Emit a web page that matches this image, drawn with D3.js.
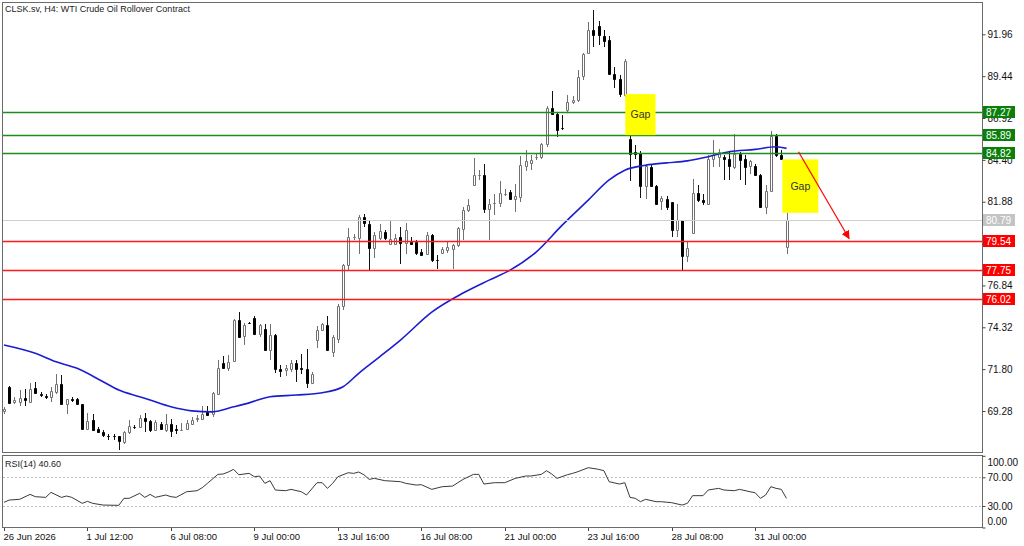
<!DOCTYPE html>
<html>
<head>
<meta charset="utf-8">
<script src="https://cdn.jsdelivr.net/npm/d3@7"></script>
<style>
  html, body { margin: 0; padding: 0; background: #fff; }
  svg text { font-family: "Liberation Sans", Arial, sans-serif; }
</style>
</head>
<body>
<div id="chart"></div>
<script>
// H4 bars, index 0 = 26 Jun 2026 00:00
const opens = [
  69.28, 70.73, 69.81, 69.85, 70.05, 69.83, 70.69, 70.33, 70.21, 70.13,
  70.43, 70.89, 69.68, 69.99, 70.03, 69.68, 68.20, 68.72, 68.20, 68.02,
  67.78, 67.80, 67.76, 67.40, 68.04, 68.34, 68.32, 68.88, 68.68, 68.12,
  68.52, 68.12, 68.48, 68.18, 68.14, 68.22, 68.52, 68.82, 68.82, 69.22,
  69.08, 70.33, 72.17, 71.89, 72.29, 74.78, 73.78, 74.58, 74.90, 73.90,
  74.24, 72.93, 73.84, 71.83, 71.73, 71.83, 72.17, 71.85, 71.83, 70.97,
  73.54, 74.18, 74.44, 72.83, 73.64, 75.58, 78.05, 79.74, 79.72, 80.96,
  80.56, 79.12, 79.72, 80.06, 79.36, 79.36, 79.76, 79.40, 79.46, 79.48,
  78.85, 78.71, 79.86, 78.40, 78.79, 78.96, 79.06, 79.26, 80.26, 81.40,
  82.87, 83.47, 83.47, 81.46, 81.80, 81.80, 82.37, 82.47, 82.07, 82.17,
  84.01, 84.20, 84.57, 84.57, 85.34, 87.54, 87.18, 86.32, 87.38, 87.89,
  88.03, 89.43, 90.84, 92.24, 92.44, 91.84, 91.60, 89.55, 89.29, 88.29,
  85.68, 84.88, 84.82, 82.81, 83.97, 82.81, 81.93, 82.07, 81.86, 80.16,
  80.76, 78.60, 80.00, 82.41, 82.01, 81.77, 84.47, 84.57, 84.57, 84.47,
  83.97, 84.78, 84.47, 84.01, 84.01, 83.47, 81.56, 82.53, 85.82, 84.68,
  79.16
];
const highs = [
  69.52, 70.77, 70.13, 70.57, 70.63, 70.97, 71.01, 70.43, 70.29, 70.73,
  71.49, 71.43, 70.03, 70.13, 70.07, 69.70, 69.16, 69.12, 68.32, 68.16,
  67.92, 67.88, 67.80, 68.08, 68.76, 68.42, 69.02, 69.16, 68.76, 68.72,
  68.62, 69.08, 68.82, 68.42, 68.56, 68.72, 68.92, 69.02, 69.56, 69.56,
  70.43, 72.37, 72.57, 72.63, 74.84, 75.24, 74.58, 74.64, 74.98, 74.54,
  74.50, 74.50, 73.94, 72.03, 72.03, 72.33, 72.33, 72.69, 73.03, 71.63,
  74.38, 74.58, 74.98, 73.84, 75.74, 78.15, 80.32, 79.96, 81.06, 81.16,
  80.72, 80.06, 80.56, 80.20, 80.72, 79.96, 80.36, 80.60, 79.76, 79.56,
  79.06, 80.06, 79.92, 78.65, 79.16, 79.46, 79.36, 80.36, 81.56, 82.07,
  84.53, 83.81, 84.13, 82.07, 82.33, 83.13, 82.67, 82.57, 82.97, 84.61,
  84.97, 84.67, 84.73, 85.42, 87.62, 88.55, 87.28, 87.08, 88.29, 88.23,
  89.79, 90.84, 92.70, 93.44, 92.76, 92.24, 91.84, 89.99, 89.49, 90.49,
  85.89, 85.28, 84.94, 84.13, 84.07, 82.87, 82.21, 82.21, 81.86, 81.76,
  80.76, 79.46, 83.27, 82.87, 82.37, 84.68, 85.58, 85.08, 84.68, 84.88,
  85.98, 84.88, 84.68, 84.41, 84.17, 83.57, 82.87, 86.14, 85.98, 85.02,
  81.20
];
const lows = [
  69.12, 69.68, 69.68, 69.56, 69.56, 69.76, 70.29, 70.13, 70.01, 69.83,
  70.33, 69.62, 69.12, 69.81, 69.62, 68.16, 68.12, 68.12, 68.00, 67.72,
  67.52, 67.56, 66.96, 67.32, 67.92, 68.22, 68.28, 68.02, 68.02, 68.08,
  68.12, 68.02, 67.72, 67.92, 68.08, 68.12, 68.42, 68.62, 68.76, 68.96,
  68.92, 70.23, 71.83, 71.69, 72.23, 73.70, 73.24, 74.50, 73.84, 73.74,
  72.90, 72.33, 71.57, 71.33, 71.37, 71.63, 71.03, 71.53, 70.69, 70.89,
  73.10, 74.10, 72.93, 72.53, 73.38, 75.34, 77.75, 79.56, 78.75, 80.36,
  77.79, 78.51, 79.60, 79.60, 79.26, 79.26, 78.11, 78.75, 79.26, 78.65,
  78.59, 78.65, 78.25, 77.85, 78.71, 78.79, 77.85, 79.16, 79.60, 81.26,
  82.87, 83.17, 81.20, 79.56, 81.06, 81.56, 82.21, 81.97, 81.26, 81.87,
  83.73, 83.77, 84.41, 84.47, 85.18, 87.08, 85.78, 86.18, 87.28, 87.79,
  87.89, 89.19, 90.76, 91.20, 91.30, 91.20, 89.49, 88.75, 88.19, 88.19,
  83.10, 84.48, 82.13, 82.07, 82.77, 81.67, 81.36, 81.36, 79.76, 79.76,
  77.75, 78.25, 79.96, 81.87, 81.67, 81.67, 83.97, 83.97, 83.21, 83.17,
  83.87, 83.21, 82.87, 83.57, 83.41, 81.50, 81.16, 82.47, 84.57, 84.37,
  78.76
];
const closes = [
  69.42, 69.76, 69.93, 70.05, 69.93, 70.63, 70.37, 70.25, 70.13, 70.47,
  70.93, 69.68, 69.99, 69.93, 69.68, 68.20, 68.68, 68.16, 68.04, 67.84,
  67.76, 67.79, 67.48, 68.04, 68.38, 68.32, 68.86, 68.68, 68.16, 68.62,
  68.22, 68.52, 68.08, 68.16, 68.16, 68.58, 68.76, 68.84, 69.08, 69.02,
  70.37, 71.89, 71.89, 72.25, 74.78, 73.74, 74.46, 74.56, 73.90, 74.44,
  72.98, 73.84, 71.83, 71.69, 71.89, 72.17, 71.83, 71.83, 70.97, 71.49,
  74.18, 74.50, 72.97, 73.74, 75.58, 78.05, 79.76, 79.76, 80.96, 80.60,
  79.12, 79.86, 80.12, 79.72, 79.66, 79.72, 79.40, 80.20, 79.32, 78.79,
  78.65, 79.86, 78.35, 78.39, 79.06, 79.16, 79.26, 80.30, 81.40, 81.66,
  83.47, 83.49, 81.46, 81.76, 81.80, 82.41, 82.37, 82.07, 82.21, 84.07,
  84.33, 84.40, 84.59, 85.34, 87.54, 87.14, 86.22, 86.31, 87.89, 88.03,
  89.39, 90.76, 92.24, 91.90, 91.90, 91.56, 89.55, 89.29, 88.35, 90.35,
  84.74, 84.78, 82.81, 84.01, 82.81, 81.77, 82.13, 81.56, 80.16, 80.76,
  78.60, 79.12, 82.41, 81.97, 81.87, 84.48, 84.68, 84.88, 84.47, 84.01,
  84.78, 84.37, 83.97, 84.33, 83.47, 81.56, 82.53, 85.82, 84.68, 84.47,
  80.79
];

// moving average at a few bars
const maBar = [0, 6, 10, 14, 19, 22, 26, 28, 32, 36, 40, 44, 47, 51, 56, 61, 65, 68, 72,
  76, 82, 88, 93, 97, 102, 107, 112, 116, 119, 123, 127, 131, 135, 139, 144, 148, 150];
const maVal = [73.25, 72.75, 72.24, 71.85, 71.04, 70.54, 70.14, 69.94, 69.53, 69.29, 69.23,
  69.53, 69.77, 70.14, 70.24, 70.38, 70.74, 71.55, 72.54, 73.55, 75.23, 76.38, 77.16, 77.76,
  78.85, 80.47, 81.98, 83.19, 83.78, 84.08, 84.22, 84.34, 84.59, 84.89, 85.03, 85.19, 85.09];

// RSI(14)
const rsiBar = [0, 1, 3, 5, 6, 8, 9, 11, 12, 13, 15, 16, 17, 19, 22, 23, 24, 26, 27, 28, 29,
  31, 32, 33, 35, 37, 38, 39, 41, 42, 43, 44, 45, 47, 48, 49, 50, 51, 52, 54, 55, 57, 58,
  60, 61, 62, 63, 64, 66, 67, 68, 69, 70, 71, 73, 76, 77, 79, 80, 82, 84, 86, 87, 88, 90,
  91, 92, 94, 96, 98, 100, 101, 103, 104, 105, 106, 108, 109, 110, 112, 114, 115, 116, 118,
  119, 120, 121, 122, 123, 125, 126, 128, 130, 131, 132, 134, 135, 137, 138, 140, 141, 143,
  144, 145, 146, 147, 148, 149, 150];
const rsiVal = [35.1, 38.3, 39.3, 46.2, 43.0, 42.0, 49.0, 42.0, 43.9, 42.0, 33.7, 36.5, 33.7,
  31.3, 30.9, 40.7, 40.7, 47.6, 42.0, 46.2, 42.0, 45.3, 43.0, 42.0, 49.9, 51.3, 55.5, 61.6,
  74.1, 74.6, 77.4, 81.1, 73.6, 75.5, 70.8, 71.8, 61.6, 65.3, 52.3, 51.3, 53.2, 49.9, 45.3,
  62.5, 62.5, 54.6, 61.6, 70.8, 76.4, 75.5, 77.4, 73.6, 67.1, 68.5, 65.3, 63.9, 61.6, 59.2,
  59.7, 53.2, 56.9, 57.8, 62.5, 67.1, 74.1, 74.1, 60.6, 62.5, 62.5, 68.5, 71.8, 71.8, 74.1,
  79.2, 74.6, 68.5, 73.6, 75.5, 77.8, 83.4, 81.1, 79.2, 63.9, 60.6, 62.5, 42.0, 40.7, 36.0,
  39.3, 36.0, 36.0, 34.6, 31.3, 33.7, 44.4, 44.4, 52.3, 54.6, 52.3, 51.3, 53.2, 49.9, 48.5,
  40.7, 45.3, 56.9, 54.6, 53.2, 40.6];

const priceTicks = [69.28, 71.80, 74.32, 76.84, 79.36, 81.88, 84.40, 86.92, 89.44, 91.96];
const rsiTicks = [0, 30, 70, 100];
const dateBars = [0, 16, 32, 48, 64, 80, 96, 112, 128, 144];
const dateLabels = ["26 Jun 2026", "1 Jul 12:00", "6 Jul 08:00", "9 Jul 00:00", "13 Jul 16:00",
  "16 Jul 08:00", "21 Jul 00:00", "23 Jul 16:00", "28 Jul 08:00", "31 Jul 00:00"];

const levelPrices = [87.27, 85.89, 84.82, 80.79, 79.54, 77.75, 76.02];
const levelKinds = ["res", "res", "res", "bid", "sup", "sup", "sup"];

// gap boxes (bar index span, price span) and the projection arrow
const gapFrom = [119.1, 149.2];
const gapTo = [124.9, 156.1];
const gapHigh = [88.36, 84.43];
const gapLow = [85.89, 81.21];
const arrowBars = [152.3, 162.0];
const arrowPrices = [84.89, 79.67];

const W = 1024, H = 546;
const L = 3, R = 983, T = 3, mainB = 453, rsiT = 456, rsiB = 528;

const svg = d3.select("#chart").append("svg")
  .attr("width", W).attr("height", H)
  .style("display", "block");
svg.append("rect").attr("width", W).attr("height", H).attr("fill", "#fff");

const x = d3.scaleLinear().domain([0, 150]).range([4, 786.5]);
const y = d3.scaleLinear().domain([69.28, 91.96]).range([411.0, 34.3]);
const yR = d3.scaleLinear().domain([0, 100]).range([527.5, 455.8]);
const px = i => Math.round(x(i)) + 0.5;

svg.append("clipPath").attr("id", "mainClip")
  .append("rect").attr("x", L).attr("y", T).attr("width", R - L).attr("height", mainB - T);
svg.append("clipPath").attr("id", "rsiClip")
  .append("rect").attr("x", L).attr("y", rsiT).attr("width", R - L).attr("height", rsiB - rsiT);

const main = svg.append("g").attr("clip-path", "url(#mainClip)");

// candles
const candles = d3.range(opens.length).map(i => ({ i, o: opens[i], h: highs[i], l: lows[i], c: closes[i] }));
const bull = d => d.c >= d.o;

main.selectAll("line.wick").data(candles).join("line")
  .attr("class", "wick")
  .attr("x1", d => px(d.i)).attr("x2", d => px(d.i))
  .attr("y1", d => Math.round(y(d.h))).attr("y2", d => Math.round(y(d.l)))
  .attr("stroke", d => bull(d) ? "#707070" : "#111")
  .attr("stroke-width", 1);

main.selectAll("path.body").data(candles).join("path")
  .attr("class", "body")
  .attr("d", d => {
    const t = Math.round(y(Math.max(d.o, d.c))) + 0.5;
    const b = Math.round(y(Math.min(d.o, d.c))) + 0.5;
    const x0 = px(d.i) - 1;
    return `M${x0},${t}h2V${b}h-2Z`;
  })
  .attr("fill", d => bull(d) ? "#fff" : "#000")
  .attr("stroke", d => bull(d) ? "#707070" : "#000")
  .attr("stroke-width", 1);

// moving average
const maPts = maBar.map((b, k) => [b, maVal[k]]);
main.append("path")
  .attr("d", d3.line().x(d => x(d[0])).y(d => y(d[1])).curve(d3.curveMonotoneX)(maPts))
  .attr("fill", "none").attr("stroke", "#1c1cd0").attr("stroke-width", 1.6);

// horizontal levels
const lineColor = { res: "#1e8c1e", bid: "#cfcfcf", sup: "#ff1a1a" };
const boxColor = { res: "#0a800a", bid: "#c4c4c4", sup: "#ff0000" };
const levels = levelPrices.map((p, k) => ({ p, kind: levelKinds[k] }));
main.selectAll("line.level").data(levels).join("line")
  .attr("class", "level")
  .attr("x1", L).attr("x2", R)
  .attr("y1", d => Math.round(y(d.p)) + 0.5).attr("y2", d => Math.round(y(d.p)) + 0.5)
  .attr("stroke", d => lineColor[d.kind])
  .attr("stroke-width", d => d.kind === "bid" ? 1 : 1.3);

// gap boxes
const gaps = gapFrom.map((f, k) => ({ f, t: gapTo[k], hi: gapHigh[k], lo: gapLow[k] }));
const gapG = main.selectAll("g.gap").data(gaps).join("g").attr("class", "gap");
gapG.append("rect")
  .attr("x", d => x(d.f)).attr("width", d => x(d.t) - x(d.f))
  .attr("y", d => y(d.hi)).attr("height", d => y(d.lo) - y(d.hi))
  .attr("fill", "#ffff00");
gapG.append("text")
  .attr("x", d => (x(d.f) + x(d.t)) / 2)
  .attr("y", d => (y(d.hi) + y(d.lo)) / 2 + 3.5)
  .attr("text-anchor", "middle")
  .attr("font-size", 10.5).attr("fill", "#333")
  .text("Gap");

// arrow
svg.append("defs").append("marker")
  .attr("id", "arrowHead").attr("viewBox", "0 0 10 10")
  .attr("refX", 9).attr("refY", 5)
  .attr("markerWidth", 7).attr("markerHeight", 7)
  .attr("orient", "auto")
  .append("path").attr("d", "M0,0L10,5L0,10Z").attr("fill", "#ff0000");
main.append("line")
  .attr("x1", x(arrowBars[0])).attr("y1", y(arrowPrices[0]))
  .attr("x2", x(arrowBars[1])).attr("y2", y(arrowPrices[1]))
  .attr("stroke", "#ff0000").attr("stroke-width", 1.2)
  .attr("marker-end", "url(#arrowHead)");

// RSI panel
const rsiG = svg.append("g").attr("clip-path", "url(#rsiClip)");
rsiG.selectAll("line.lvl").data([70, 30]).join("line")
  .attr("class", "lvl")
  .attr("x1", L).attr("x2", R)
  .attr("y1", d => Math.round(yR(d)) + 0.5).attr("y2", d => Math.round(yR(d)) + 0.5)
  .attr("stroke", "#bdbdbd").attr("stroke-dasharray", "2,2");
const rsiPts = rsiBar.map((b, k) => [b, rsiVal[k]]);
rsiG.append("path")
  .attr("d", d3.line().x(d => x(d[0])).y(d => yR(d[1]))(rsiPts))
  .attr("fill", "none").attr("stroke", "#3a3a3a").attr("stroke-width", 1);

// frames
svg.append("rect").attr("x", L - 0.5).attr("y", T - 0.5).attr("width", R - L).attr("height", mainB - T)
  .attr("fill", "none").attr("stroke", "#6a6a6a");
svg.append("rect").attr("x", L - 0.5).attr("y", rsiT - 0.5).attr("width", R - L).attr("height", rsiB - rsiT)
  .attr("fill", "none").attr("stroke", "#6a6a6a");

// price axis
const yAxis = svg.append("g")
  .attr("transform", `translate(${R - 0.5},0)`)
  .call(d3.axisRight(y).tickValues(priceTicks).tickFormat(d3.format(".2f")).tickSize(3).tickPadding(2));
yAxis.select(".domain").remove();
yAxis.selectAll("text").attr("font-size", 10).attr("fill", "#111").attr("font-family", "Liberation Sans, Arial, sans-serif");
yAxis.selectAll("line").attr("stroke", "#444");

// level price boxes on the axis
const boxG = svg.selectAll("g.lbox").data(levels).join("g").attr("class", "lbox")
  .attr("transform", d => `translate(${R},${Math.round(y(d.p))})`);
boxG.append("rect")
  .attr("x", 0).attr("y", -6).attr("width", 32).attr("height", 12)
  .attr("fill", d => boxColor[d.kind]);
boxG.append("text")
  .attr("x", 3).attr("y", 3.6)
  .attr("font-size", 10).attr("fill", "#fff")
  .text(d => d.p.toFixed(2));

// RSI axis
const rAxis = svg.append("g")
  .attr("transform", `translate(${R - 0.5},0)`)
  .call(d3.axisRight(yR).tickValues(rsiTicks).tickFormat(d3.format(".2f")).tickSize(3).tickPadding(2));
rAxis.select(".domain").remove();
rAxis.selectAll("text").attr("font-size", 10).attr("fill", "#111").attr("font-family", "Liberation Sans, Arial, sans-serif")
  .attr("dy", d => d === 100 ? "0.95em" : d === 0 ? "-0.3em" : "0.32em");
rAxis.selectAll("line").attr("stroke", "#444");

// time axis
const tG = svg.selectAll("g.tl").data(dateBars).join("g").attr("class", "tl")
  .attr("transform", d => `translate(${px(d)},${rsiB})`);
tG.append("line").attr("y1", 0).attr("y2", 3).attr("stroke", "#444");
tG.append("text")
  .attr("x", -1).attr("y", 12)
  .attr("font-size", 9.5).attr("fill", "#111")
  .text((d, k) => dateLabels[k]);

// titles
svg.append("text").attr("x", 5).attr("y", 11.5)
  .attr("font-size", 9).attr("fill", "#222")
  .text("CLSK.sv, H4:  WTI Crude Oil Rollover Contract");
svg.append("text").attr("x", 5).attr("y", 467)
  .attr("font-size", 9).attr("fill", "#222")
  .text("RSI(14) " + rsiVal[rsiVal.length - 1].toFixed(2));
</script>
</body>
</html>
